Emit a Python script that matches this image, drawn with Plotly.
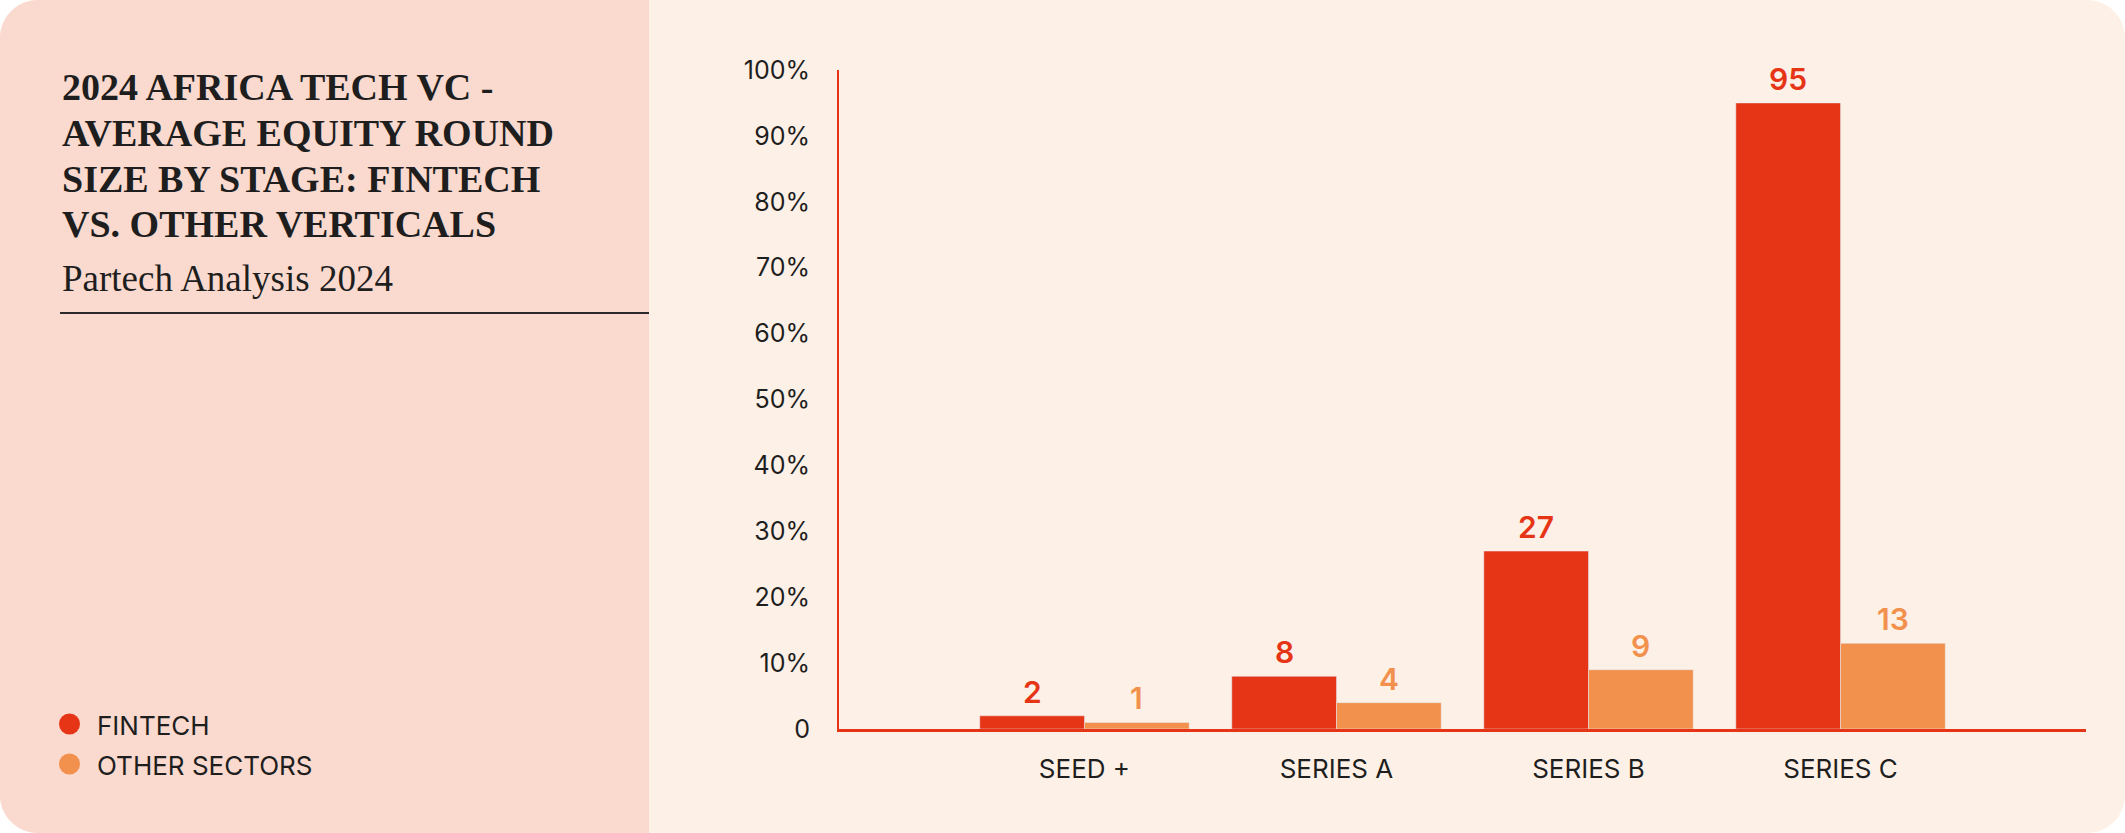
import plotly.graph_objects as go

# Average equity round size by stage, 2024 (Partech analysis)
stages = ["SEED +", "SERIES A", "SERIES B", "SERIES C"]
fintech = [2, 8, 27, 95]
other_sectors = [1, 4, 9, 13]
series_names = ["FINTECH", "OTHER SECTORS"]
y_ticks = [0, 10, 20, 30, 40, 50, 60, 70, 80, 90, 100]
y_tick_labels = ["0", "10%", "20%", "30%", "40%", "50%", "60%", "70%", "80%", "90%", "100%"]

RED = "#E63516"
ORANGE = "#F2914D"
PINK = "#FAD9CE"
CREAM = "#FDF0E6"
INK = "#1E1E1E"
SANS = "Inter, Lato, sans-serif"
SERIF = "Liberation Serif, Times New Roman, serif"

W, H = 2125, 833
ML, MR, MT, MB = 839, 39, 70, 104
BARGAP = 0.169


def px(x):
    return (x - ML) / (W - ML - MR)


def py(y):
    return (H - MB - y) / (H - MT - MB)


def rounded_path(x0, y0, x1, y1, rl, rr):
    k = 0.5523
    pts = [
        ("M", [(x0 + rl, y0)]),
        ("L", [(x1 - rr, y0)]),
        ("C", [(x1 - rr + k * rr, y0), (x1, y0 + rr - k * rr), (x1, y0 + rr)]),
        ("L", [(x1, y1 - rr)]),
        ("C", [(x1, y1 - rr + k * rr), (x1 - rr + k * rr, y1), (x1 - rr, y1)]),
        ("L", [(x0 + rl, y1)]),
        ("C", [(x0 + rl - k * rl, y1), (x0, y1 - rl + k * rl), (x0, y1 - rl)]),
        ("L", [(x0, y0 + rl)]),
        ("C", [(x0, y0 + rl - k * rl), (x0 + rl - k * rl, y0), (x0 + rl, y0)]),
    ]
    out = ""
    for cmd, p in pts:
        out += cmd + " " + " ".join(f"{px(a):.5f},{py(b):.5f}" for a, b in p) + " "
    return out + "Z"


fig = go.Figure()
fig.add_trace(go.Bar(x=stages, y=fintech, name=series_names[0], marker_color=RED, showlegend=False))
fig.add_trace(go.Bar(x=stages, y=other_sectors, name=series_names[1], marker_color=ORANGE, showlegend=False))

# value labels above each bar
off = (1 - BARGAP) / 4
annotations = []
for i in range(len(stages)):
    for vals, col, sign in [(fintech, RED, -1), (other_sectors, ORANGE, 1)]:
        annotations.append(dict(
            x=i + sign * off, y=vals[i], xref="x", yref="y", text=str(vals[i]),
            showarrow=False, yanchor="bottom", yshift=4,
            font=dict(family=SANS, size=30, color=col, weight=600)))

# title block
title_lines = ["2024 AFRICA TECH VC -", "AVERAGE EQUITY ROUND",
               "SIZE BY STAGE: FINTECH", "VS. OTHER VERTICALS"]
for line, yc in zip(title_lines, [85, 131, 177, 222.5]):
    annotations.append(dict(
        x=px(60), y=py(yc + 2), xref="paper", yref="paper", text=line,
        showarrow=False, xanchor="left", yanchor="middle",
        font=dict(family=SERIF, size=38, color=INK, weight="bold")))
annotations.append(dict(
    x=px(60), y=py(278), xref="paper", yref="paper", text="Partech Analysis 2024",
    showarrow=False, xanchor="left", yanchor="middle",
    font=dict(family=SERIF, size=37, color=INK)))

# legend
shapes = [
    dict(type="path", path=rounded_path(0, 0, W, H, 38, 38), fillcolor=CREAM,
         line=dict(width=0), xref="paper", yref="paper", layer="below"),
    dict(type="path", path=rounded_path(0, 0, 649, H, 38, 0), fillcolor=PINK,
         line=dict(width=0), xref="paper", yref="paper", layer="below"),
    dict(type="line", x0=px(60), x1=px(649), y0=py(313), y1=py(313),
         xref="paper", yref="paper", line=dict(color="#2A2A2A", width=2)),
]
for name, col, yc in zip(series_names, [RED, ORANGE], [724, 764]):
    r = 10.5
    shapes.append(dict(type="circle", xref="paper", yref="paper",
                       x0=px(69.5 - r), x1=px(69.5 + r), y0=py(yc + r), y1=py(yc - r),
                       fillcolor=col, line=dict(width=0)))
    annotations.append(dict(
        x=px(95), y=py(yc + 1), xref="paper", yref="paper", text=name,
        showarrow=False, xanchor="left", yanchor="middle",
        font=dict(family=SANS, size=26, color=INK)))

fig.update_layout(
    width=W, height=H,
    margin=dict(l=ML, r=MR, t=MT, b=MB),
    paper_bgcolor="white",
    plot_bgcolor="rgba(0,0,0,0)",
    barmode="group", bargap=BARGAP, bargroupgap=0,
    annotations=annotations,
    shapes=shapes,
    font=dict(family=SANS, color=INK),
)
fig.update_xaxes(
    range=[-0.974, 3.974], showline=True, linecolor=RED, linewidth=2.5,
    showgrid=False, zeroline=False, ticks="",
    tickfont=dict(family=SANS, size=26, color=INK), ticklabelstandoff=15,
)
fig.update_yaxes(
    range=[0, 100], tickvals=y_ticks, ticktext=y_tick_labels,
    showline=True, linecolor=RED, linewidth=2,
    showgrid=False, zeroline=False, ticks="",
    tickfont=dict(family=SANS, size=25, color=INK), ticklabelstandoff=22,
)

fig.write_html("out.html", config={"displayModeBar": False},
               post_script="document.body.style.margin = '0';")
